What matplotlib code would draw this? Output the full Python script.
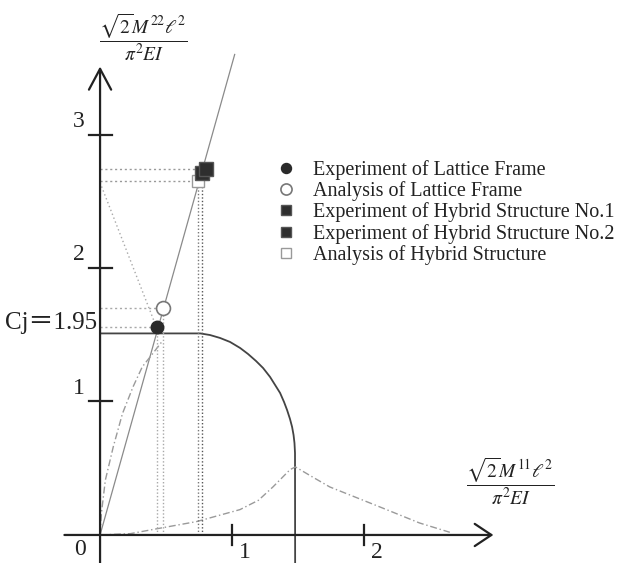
import numpy as np
import matplotlib.pyplot as plt

plt.rcParams['font.family'] = ['Liberation Serif', 'Noto Sans CJK JP']
plt.rcParams['mathtext.fontset'] = 'stix'

# measured points  (x = sqrt2 M11 l^2 / pi^2 EI , y = sqrt2 M22 l^2 / pi^2 EI)
exp_lattice = (0.43, 1.56)
anl_lattice = (0.48, 1.70)
exp_hybrid1 = (0.77, 2.71)
exp_hybrid2 = (0.80, 2.74)
anl_hybrid = (0.745, 2.65)
cj = 1.51
cj_label = 'Cj＝1.95'

# interaction curve
curve_x = [0.0, 0.76, 0.833, 0.909, 0.985, 1.061, 1.121, 1.182, 1.235, 1.288, 1.326,
           1.364, 1.394, 1.417, 1.439, 1.455, 1.466, 1.473, 1.477, 1.478]
curve_y = [cj, cj, 1.498, 1.476, 1.446, 1.401, 1.356, 1.303, 1.251, 1.184, 1.124,
           1.064, 0.996, 0.936, 0.869, 0.809, 0.749, 0.689, 0.614, -0.21]

# proportional loading line
load_x = [0.0, 1.02]
load_y = [0.0, 3.60]

# analysis load paths
path1_x = [0.0, 0.01, 0.04, 0.10, 0.17, 0.25, 0.32, 0.40, 0.47]
path1_y = [0.0, 0.16, 0.41, 0.66, 0.91, 1.11, 1.26, 1.36, 1.45]
path2_x = [0.0, 0.23, 0.45, 0.73, 1.06, 1.20, 1.31, 1.44, 1.48, 1.60, 1.74, 2.12, 2.42, 2.65]
path2_y = [0.0, 0.01, 0.05, 0.10, 0.19, 0.26, 0.36, 0.49, 0.51, 0.44, 0.36, 0.21, 0.09, 0.02]
path3_x = [0.0, 0.41]
path3_y = [2.64, 1.60]

x_ticks = [1, 2]
y_ticks = [1, 2, 3]

ink = '#222222'
light = '#a8a8a8'

fig = plt.figure(figsize=(6.44, 5.63), dpi=100)
ax = fig.add_axes([0, 0, 1, 1])
ax.set_xlim(-0.758, 4.121)
ax.set_ylim(-0.21, 4.008)
ax.axis('off')

# axes with open arrow heads
ax.annotate('', xy=(2.98, 0), xytext=(-0.27, 0),
            arrowprops=dict(arrowstyle='->, head_length=0.6, head_width=0.4',
                            color=ink, lw=1.6, shrinkA=0, shrinkB=0, mutation_scale=20))
ax.annotate('', xy=(0, 3.51), xytext=(0, -0.21),
            arrowprops=dict(arrowstyle='->, head_length=0.75, head_width=0.4',
                            color=ink, lw=1.6, shrinkA=0, shrinkB=0, mutation_scale=20))
for x in x_ticks:
    ax.plot([x, x], [-0.075, 0.075], color=ink, lw=1.6)
    ax.text(x + 0.1, -0.13, str(x), ha='center', va='center', fontsize=17, color=ink)
for y in y_ticks:
    ax.plot([-0.083, 0.091], [y, y], color=ink, lw=1.6)
    ax.text(-0.115, y + 0.1, str(y), ha='right', va='center', fontsize=17, color=ink)
ax.text(-0.15, -0.11, '0', ha='center', va='center', fontsize=17, color=ink)

ax.text(0.33, 3.73, r'$\dfrac{\sqrt{2}M^{22}\ell^{2}}{\pi^{2}EI}$', ha='center', va='center',
        fontsize=14, color=ink)
ax.text(3.11, 0.40, r'$\dfrac{\sqrt{2}M^{11}\ell^{2}}{\pi^{2}EI}$', ha='center', va='center',
        fontsize=14, color=ink)

# curves
ax.plot(curve_x, curve_y, color='#444444', lw=1.3)
ax.plot(load_x, load_y, color='#8a8a8a', lw=0.9)
ax.plot(path1_x, path1_y, color='#9a9a9a', lw=1.0, ls=(0, (5, 2, 1, 2)))
ax.plot(path2_x, path2_y, color='#9a9a9a', lw=1.0, ls=(0, (5, 2, 1, 2)))
ax.plot(path3_x, path3_y, color=light, lw=1.0, ls=(0, (1, 2)))

# guide lines to the points
for (px, py), c in [(exp_lattice, light), (anl_lattice, light),
                    (exp_hybrid2, '#999999'), (anl_hybrid, '#999999')]:
    ax.plot([0, px], [py, py], color=c, lw=1.0, ls=(0, (1.5, 2)))
for (px, py), c in [(exp_lattice, light), (anl_lattice, light),
                    (exp_hybrid1, '#555555'), (anl_hybrid, '#777777')]:
    ax.plot([px, px], [0, py], color=c, lw=1.0, ls=(0, (1, 1.5)))

ax.text(-0.023, cj + 0.03, cj_label, ha='right', va='baseline', fontsize=18, color=ink)

# points
h1, = ax.plot(*exp_lattice, 'o', ms=9, color='#2a2a2a', label='Experiment of Lattice Frame')
h2, = ax.plot(*anl_lattice, 'o', ms=10, mfc='white', mec='#777777', mew=1.2,
              label='Analysis of Lattice Frame')
h5, = ax.plot(*anl_hybrid, 's', ms=9, mfc='white', mec='#999999', mew=1.0,
              label='Analysis of Hybrid Structure')
h3, = ax.plot(*exp_hybrid1, 's', ms=9.5, color='#2e2e2e', mec='#555555',
              label='Experiment of Hybrid Structure No.1')
h4, = ax.plot(*exp_hybrid2, 's', ms=9.5, color='#2e2e2e', mec='#555555',
              label='Experiment of Hybrid Structure No.2')

ax.legend(handles=[h1, h2, h3, h4, h5], loc='upper left', bbox_to_anchor=(0.429, 0.716),
          bbox_transform=fig.transFigure, frameon=False, fontsize=14.5, markerscale=0.8,
          handlelength=1.0, handletextpad=0.8, labelspacing=0.07, borderpad=0,
          borderaxespad=0, labelcolor=ink)

fig.savefig('out.png', dpi=100)
